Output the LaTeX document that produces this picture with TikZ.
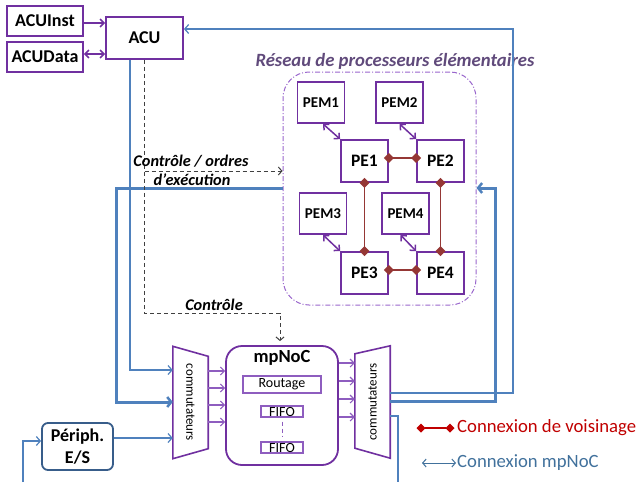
\documentclass[tikz,border=0pt]{standalone}
\usepackage{fontspec}
\setmainfont{Carlito}
\usetikzlibrary{arrows.meta,calc}
\definecolor{pur}{HTML}{7030A0}
\definecolor{lpur}{HTML}{8E5DBF}
\definecolor{dpur}{HTML}{9966CC}
\definecolor{ttl}{HTML}{604A7B}
\definecolor{blu}{HTML}{4F81BD}
\definecolor{dblu}{HTML}{385D8A}
\definecolor{brn}{HTML}{953735}
\definecolor{lred}{HTML}{C00000}
\definecolor{lblu}{HTML}{41719C}
\begin{document}
\begin{tikzpicture}[x=1pt,y=-1pt,
  box/.style={draw=pur,line width=1.8pt,fill=white,inner sep=0pt,font=\bfseries\fontsize{18}{20}\selectfont},
  pembox/.style={box,minimum width=47pt,minimum height=41pt,font=\bfseries\fontsize{15}{17}\selectfont},
  pebox/.style={box,minimum width=47pt,minimum height=42pt,font=\bfseries\fontsize{17.5}{19}\selectfont},
  ibox/.style={draw=lpur,line width=1.2pt,inner sep=0pt,font=\fontsize{14}{16}\selectfont},
  parr/.style={draw=pur,line width=1.5pt,{Straight Barb[length=4pt,width=8pt]}-{Straight Barb[length=4pt,width=8pt]}},
  sarr/.style={draw=pur,line width=1.5pt,-{Straight Barb[length=4pt,width=8pt]}},
  narr/.style={draw=lpur,line width=1.1pt,-{Straight Barb[length=4pt,width=8pt]}},
  neigh/.style={draw=brn,line width=1.4pt,{Diamond[length=10pt,width=10pt]}-{Diamond[length=10pt,width=10pt]},shorten <=-5pt,shorten >=-5pt},
  thin/.style={draw=blu,line width=1.2pt},
  thinarr/.style={thin,-{Straight Barb[length=4pt,width=9pt]}},
  thick/.style={draw=blu,line width=3pt},
  thickarr/.style={thick,-{Straight Barb[length=4pt,width=10pt,line width=2.5pt]}},
  ctrl/.style={draw=black!75,line width=1pt,dashed,dash pattern=on 4pt off 3pt,-{Straight Barb[length=3.5pt,width=8pt]}},
  lbl/.style={font=\bfseries\itshape\fontsize{16.3}{18}\selectfont,inner sep=0pt},
  sw/.style={inner sep=0pt,minimum width=35pt,minimum height=112pt},
  swtxt/.style={font=\fontsize{13}{15}\selectfont,inner sep=0pt}
]
\useasboundingbox (0,0) rectangle (639,482);

% left boxes
\node[box,minimum width=76pt,minimum height=30pt] (inst) at (45,21) {ACUInst};
\node[box,minimum width=76pt,minimum height=30pt] (data) at (45,57) {ACUData};
\node[box,minimum width=77pt,minimum height=42pt] (acu) at (144.5,38) {ACU};
\draw[sarr] (inst.east |- 0,23) -- (acu.west |- 0,23);
\draw[parr] (data.east |- 0,54) -- (acu.west |- 0,54);

% PE network
\node[draw=dpur,line width=1pt,dash pattern=on 5pt off 2pt on 1pt off 2pt,rounded corners=26pt,minimum width=193pt,minimum height=233pt,inner sep=0pt] (reg) at (379.5,188.5) {};
\node[font=\bfseries\itshape\fontsize{18.7}{20}\selectfont,text=ttl,inner sep=0pt] (regt) at (395,61) {Réseau de processeurs élémentaires};
\node[pembox] (pem1) at (321,102.5) {PEM1};
\node[pembox] (pem2) at (399.5,102.5) {PEM2};
\node[pebox] (pe1) at (364.5,161) {PE1};
\node[pebox] (pe2) at (440.5,161) {PE2};
\node[pembox] (pem3) at (323,213.5) {PEM3};
\node[pembox] (pem4) at (405.5,213.5) {PEM4};
\node[pebox] (pe3) at (364.5,273) {PE3};
\node[pebox] (pe4) at (440.5,273) {PE4};
\draw[parr] ([xshift=2pt]pem1.south) -- (pe1.north west);
\draw[parr] (pem2.south) -- (pe2.north west);
\draw[parr] (pem3.south) -- (pe3.north west);
\draw[parr] ([xshift=-5pt]pem4.south) -- (pe4.north west);
\draw[neigh] ([yshift=3pt]pe1.east) -- ([yshift=3pt]pe2.west);
\draw[neigh] ([yshift=3pt]pe3.east) -- ([yshift=3pt]pe4.west);
\draw[neigh] (pe1.south) -- (pe3.north);
\draw[neigh] (pe2.south) -- (pe4.north);

% mpNoC
\node[draw=pur,line width=1.8pt,rounded corners=16pt,minimum width=112pt,minimum height=119pt,inner sep=0pt] (noc) at (282,405.5) {};
\node[font=\bfseries\fontsize{18.5}{20}\selectfont,inner sep=0pt] (noct) at (282,358) {mpNoC};
\node[ibox,minimum width=78pt,minimum height=17pt] (rout) at (282,384.5) {Routage};
\node[ibox,minimum width=42pt,minimum height=11pt] (fifo1) at (282,411.5) {FIFO};
\node[ibox,minimum width=42pt,minimum height=11pt] (fifo2) at (282,447.5) {FIFO};
\draw[draw=lpur,line width=1pt,dash pattern=on 4pt off 3pt] (fifo1.south) ++(0,4) -- ([yshift=4pt]fifo2.north);

% switches
\node[sw] (swl) at (190.5,402.5) {};
\draw[draw=pur,line width=1.6pt] (swl.north west) -- ([yshift=-10pt]swl.north east) -- ([yshift=10pt]swl.south east) -- (swl.south west) -- cycle;
\node[swtxt,rotate=-90] at (swl.center) {commutateurs};
\node[sw] (swr) at (372.5,402) {};
\draw[draw=pur,line width=1.6pt] ([yshift=-8pt]swr.north west) -- (swr.north east) -- (swr.south east) -- ([yshift=10pt]swr.south west) -- cycle;
\node[swtxt,rotate=90] at (swr.center) {commutateurs};
\foreach \yy in {371,388,405,422} \draw[narr] (swl.east |- 0,\yy) -- (noc.west |- 0,\yy);
\foreach \yy in {363,381,399,417} \draw[narr] (noc.east |- 0,\yy) -- (swr.west |- 0,\yy);

% peripheral
\node[draw=dblu,line width=1.8pt,rounded corners=6pt,minimum width=71pt,minimum height=47pt,inner sep=0pt,align=center,font=\bfseries\fontsize{18}{22}\selectfont] (peri) at (77.5,446.5) {Périph.\\E/S};
\coordinate (pin) at (23,482);
\coordinate (pout) at (398,482);

% blue connections
\draw[thinarr] (swr.east |- 0,393) -| (513,29) -- (acu.east |- 0,29);
\draw[thickarr] (swr.east |- 0,401) -| (495,188) -- (reg.east |- 0,188);
\draw[thickarr] (reg.west |- 0,188) -- (116,188) |- (swl.west |- 0,402);
\draw[thinarr] ([xshift=-14.5pt]acu.south) |- (swl.west |- 0,370);
\draw[thinarr] (peri.east |- 0,438) -- (swl.west |- 0,438);
\draw[thinarr] (pin) |- (peri.west |- 0,441);
\draw[thin] (swr.east |- 0,416) -| (pout);

% control
\draw[ctrl] (acu.south) -- (144.5,313) -| ([xshift=-2pt,yshift=4pt]noc.north);
\draw[ctrl] (144.5,171) -- (reg.west |- 0,171);
\node[lbl] (c1) at (191,161) {Contrôle / ordres};
\node[lbl] (c2) at (192,180) {d’exécution};
\node[lbl] (c3) at (214,305) {Contrôle};

% legend
\node[anchor=west,inner sep=0pt,text=lred,font=\fontsize{18.7}{20}\selectfont] (lg1) at (457,428) {Connexion de voisinage};
\coordinate (lg1a) at (421,428);
\draw[draw=lred,line width=1.2pt,{Diamond[length=9pt,width=9pt]}-{Diamond[length=9pt,width=9pt]},shorten <=-4.5pt,shorten >=-4.5pt] (lg1a) -- ([xshift=-7pt]lg1.west);
\node[anchor=west,inner sep=0pt,text=lblu,font=\fontsize{18.7}{20}\selectfont] (lg2) at (457,463) {Connexion mpNoC};
\coordinate (lg2a) at (422,463);
\draw[draw=lblu,line width=1pt,{Straight Barb[length=3.5pt,width=8pt]}-{Straight Barb[length=3.5pt,width=8pt]}] (lg2a) -- ([xshift=-1pt]lg2.west);
\end{tikzpicture}
\end{document}
